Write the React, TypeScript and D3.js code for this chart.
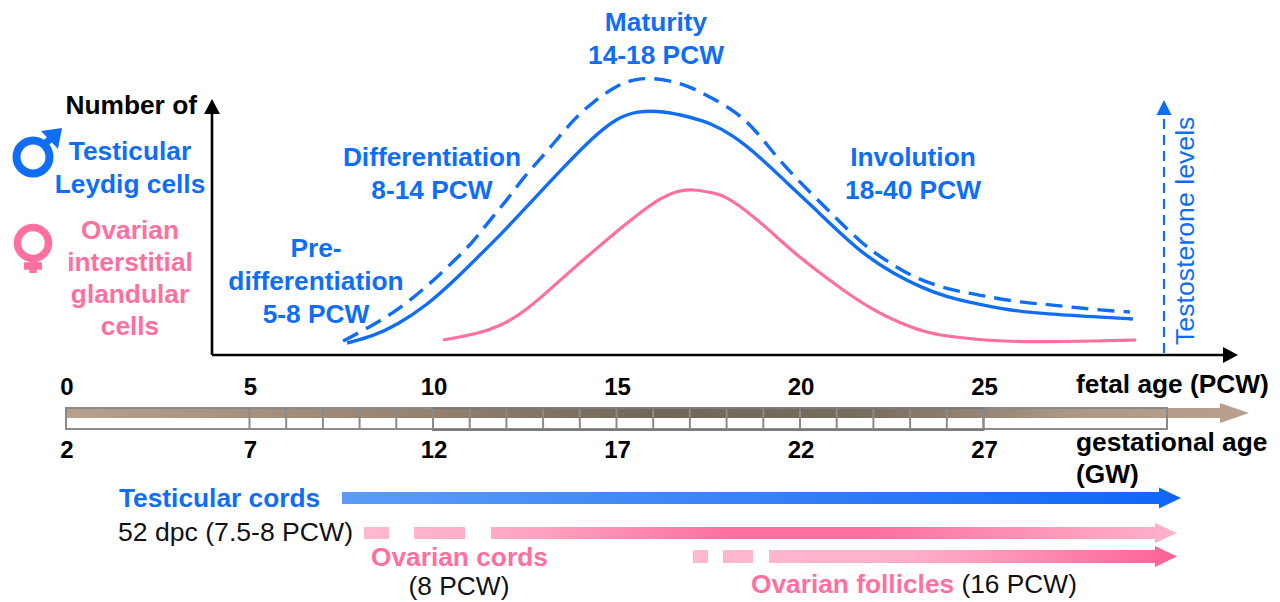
import React from "react";
import * as d3 from "d3";

const weeksLeydig = [7.66,8.37,9.02,9.84,10.54,11.28,12.02,12.72,13.54,14.36,15.01,15.56,16.27,17.0,17.55,18.17,18.91,19.65,20.35,21.09,21.83,22.53,23.27,24.0,24.71,25.64,26.73,28.17,29.07];
const leydigCells = [11,18,29,49,72,99,126,154,186,217,236,243,243,237,231,219,197,171,147,121,97,81,67,57,51,44,40,37,35];
const weeksTestosterone = [7.55,8.28,8.91,9.56,10.11,10.6,11.09,11.55,12.02,12.45,12.97,13.41,13.87,14.36,15.01,15.64,16.46,17.08,17.55,18.28,18.83,19.32,19.81,20.35,20.9,21.36,21.91,22.45,23.08,23.81,24.55,25.18,25.91,26.62,27.36,28.17,28.99];
const testosterone = [13,27,41,59,77,94,112,134,154,176,197,216,236,252,269,277,274,266,257,242,222,199,179,159,139,122,104,91,77,67,61,57,52,50,47,44,42];
const weeksFemale = [10.27,11.2,11.91,12.56,13.38,14.09,14.82,15.56,16.19,16.65,17.06,17.63,17.9,18.45,19.1,19.81,20.54,21.28,21.99,22.72,23.46,24.17,25.26,26.35,28.17,29.16];
const glandularCells = [14,20,29,44,71,94,117,139,156,163,165,161,159,146,126,102,81,61,44,31,21,17,13,12,13,14];
const pcwTicks = [0,5,10,15,20,25];
const gwTicks = [2,7,12,17,22,27];
const weekDividers = d3.range(5, 26);

const BLUE = "#0f6ef5";
const PINK = "#ff6f9f";
const FONT = "'Liberation Sans', Arial, sans-serif";

const x = d3.scaleLinear().domain([0, 30]).range([66, 1167]);
const y = d3.scaleLinear().domain([0, 354]).range([354, 0]);
const curve = (xs: number[], ys: number[]) =>
  d3.line<number>().x((d) => x(d)).y((_, i) => y(ys[i])).curve(d3.curveBasis)(xs) as string;

type LabelProps = { lines: string[]; cx: number; top: number; step: number; fill: string; size?: number; bold?: boolean; anchor?: string };
const Label = ({ lines, cx, top, step, fill, size = 26.3, bold = true, anchor = "middle" }: LabelProps) => (
  <text textAnchor={anchor as any} fontFamily={FONT} fontWeight={bold ? 700 : 400} fontSize={size} fill={fill}>
    {lines.map((l, i) => (
      <tspan key={i} x={cx} y={top + i * step}>{l}</tspan>
    ))}
  </text>
);

const Arrow = ({ x0, x1, head, yc, h, hh, fill }: { x0: number; x1: number; head: number; yc: number; h: number; hh: number; fill: string }) => (
  <path
    d={`M${x0},${yc - h / 2}H${head}V${yc - hh / 2}L${x1},${yc}L${head},${yc + hh / 2}V${yc + h / 2}H${x0}Z`}
    fill={fill}
  />
);

export default function App() {
  return (
    <svg width={1280} height={602} style={{ position: "fixed", left: 0, top: 0, background: "#fff" }}>
      <defs>
        <linearGradient id="brown" gradientUnits="userSpaceOnUse" x1={66} x2={1249} y1={0} y2={0}>
          <stop offset="0" stopColor="#b8a08e" />
          <stop offset="0.3" stopColor="#95826f" />
          <stop offset="0.5" stopColor="#6e675a" />
          <stop offset="0.68" stopColor="#786e5f" />
          <stop offset="0.85" stopColor="#ad9886" />
          <stop offset="1" stopColor="#b8a08e" />
        </linearGradient>
        <linearGradient id="blueArrow" gradientUnits="userSpaceOnUse" x1={342} x2={1180} y1={0} y2={0}>
          <stop offset="0" stopColor="#5c9cf7" />
          <stop offset="1" stopColor="#0f66f7" />
        </linearGradient>
        <linearGradient id="pinkA" gradientUnits="userSpaceOnUse" x1={364} x2={1177} y1={0} y2={0}>
          <stop offset="0" stopColor="#ffb9d0" />
          <stop offset="0.18" stopColor="#ffa9c4" />
          <stop offset="0.45" stopColor="#ff6f9f" />
          <stop offset="0.62" stopColor="#ff6f9f" />
          <stop offset="1" stopColor="#ffb3cb" />
        </linearGradient>
        <linearGradient id="pinkB" gradientUnits="userSpaceOnUse" x1={693} x2={1177} y1={0} y2={0}>
          <stop offset="0" stopColor="#ffb9d0" />
          <stop offset="0.45" stopColor="#ffb0c9" />
          <stop offset="1" stopColor="#ff6096" />
        </linearGradient>
      </defs>

      {/* main axes */}
      <path d="M212,355V112M212,355H1226" fill="none" stroke="#000" strokeWidth={2.6} />
      <path d="M204,114L212,99L220,114Z" fill="#000" />
      <path d="M1223,347L1238,355L1223,363Z" fill="#000" />

      {/* curves */}
      <path d={curve(weeksTestosterone, testosterone)} fill="none" stroke={BLUE} strokeWidth={3.4} strokeDasharray="17 9" />
      <path d={curve(weeksLeydig, leydigCells)} fill="none" stroke={BLUE} strokeWidth={3.4} />
      <path d={curve(weeksFemale, glandularCells)} fill="none" stroke={PINK} strokeWidth={3.2} />

      {/* testosterone arrow */}
      <path d="M1164,353V112" fill="none" stroke={BLUE} strokeWidth={2.2} strokeDasharray="10 6" />
      <path d="M1156.5,115L1164,100L1171.5,115Z" fill={BLUE} />
      <text transform="translate(1194,345) rotate(-90)" fontFamily={FONT} fontSize={26.7} fill={BLUE}>Testosterone levels</text>

      {/* stage labels */}
      <Label lines={["Maturity", "14-18 PCW"]} cx={656} top={31} step={33} fill={BLUE} />
      <Label lines={["Differentiation", "8-14 PCW"]} cx={432} top={166} step={33} fill={BLUE} />
      <Label lines={["Involution", "18-40 PCW"]} cx={913} top={166} step={33} fill={BLUE} />
      <Label lines={["Pre-", "differentiation", "5-8 PCW"]} cx={316} top={257} step={33} fill={BLUE} />

      {/* legend side */}
      <Label lines={["Number of"]} cx={197} top={114} step={0} fill="#000" anchor="end" />
      <Label lines={["Testicular", "Leydig cells"]} cx={130} top={160} step={33} fill={BLUE} />
      <Label lines={["Ovarian", "interstitial", "glandular", "cells"]} cx={130} top={239} step={32} fill={PINK} />

      {/* male / female symbols */}
      <circle cx={33} cy={157} r={16.5} fill="none" stroke={BLUE} strokeWidth={8} />
      <path d="M44,145L56,133" stroke={BLUE} strokeWidth={7} fill="none" />
      <path d="M41,131L62,128L58,149Z" fill={BLUE} />
      <circle cx={33} cy={243} r={15.5} fill="none" stroke={PINK} strokeWidth={7.5} />
      <path d="M33,258V273M24,266H42" stroke={PINK} strokeWidth={7.5} fill="none" />

      {/* time bar */}
      <Arrow x0={x(0)} x1={1249} head={1220} yc={413} h={10} hh={20} fill="url(#brown)" />
      <rect x={x(0)} y={408} width={x(30) - x(0)} height={21} fill="none" stroke="#8a8a8a" strokeWidth={2} />
      <rect x={x(10)} y={408} width={x(25) - x(10)} height={22} fill="none" stroke="#7a7a7a" strokeWidth={2} />
      {weekDividers.map((w) => (
        <line key={w} x1={x(w)} x2={x(w)} y1={409} y2={429} stroke="#8a8a8a" strokeWidth={2} />
      ))}
      <g fontFamily={FONT} fontWeight={700} fontSize={24} fill="#000" textAnchor="middle">
        {pcwTicks.map((t) => <text key={t} x={x(t) + 1} y={395}>{t}</text>)}
        {gwTicks.map((t, i) => <text key={t} x={x(pcwTicks[i]) + 1} y={458}>{t}</text>)}
      </g>
      <Label lines={["fetal age (PCW)"]} cx={1076} top={393} step={0} fill="#000" anchor="start" />
      <Label lines={["gestational age", "(GW)"]} cx={1076} top={451} step={32} fill="#000" anchor="start" />

      {/* development arrows */}
      <Arrow x0={342} x1={1181} head={1159} yc={498} h={12} hh={21} fill="url(#blueArrow)" />
      <g fill="url(#pinkA)">
        <rect x={364} y={527} width={25} height={12} />
        <rect x={414} y={527} width={51} height={12} />
      </g>
      <Arrow x0={491} x1={1177} head={1155} yc={533} h={12} hh={20} fill="url(#pinkA)" />
      <g fill="url(#pinkB)">
        <rect x={693} y={550} width={15} height={13} />
        <rect x={723} y={550} width={30} height={13} />
      </g>
      <Arrow x0={769} x1={1177} head={1155} yc={556.5} h={13} hh={21} fill="url(#pinkB)" />

      <Label lines={["Testicular cords"]} cx={119} top={507} step={0} fill={BLUE} anchor="start" />
      <Label lines={["52 dpc (7.5-8 PCW)"]} cx={118} top={541} step={0} fill="#111" size={26.6} bold={false} anchor="start" />
      <Label lines={["Ovarian cords"]} cx={371} top={566} step={0} fill={PINK} anchor="start" />
      <Label lines={["(8 PCW)"]} cx={459} top={595} step={0} fill="#111" bold={false} />
      <text fontFamily={FONT} fontSize={26.3} x={751} y={593}>
        <tspan fontWeight={700} fill={PINK}>Ovarian follicles</tspan>
        <tspan fill="#111"> (16 PCW)</tspan>
      </text>
    </svg>
  );
}
